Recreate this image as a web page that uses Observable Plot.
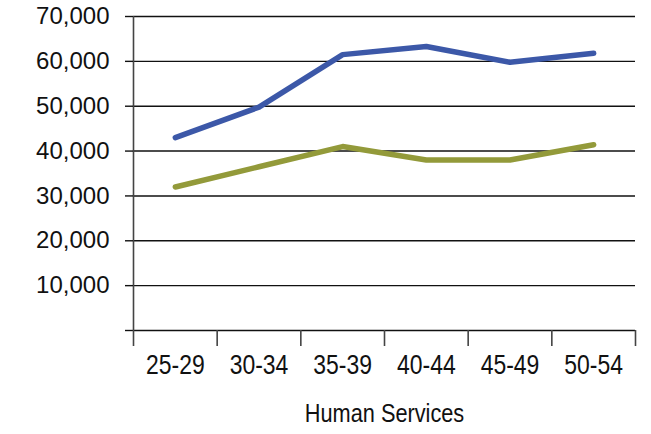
<!DOCTYPE html>
<html>
<head>
<meta charset="utf-8">
<script src="https://cdn.jsdelivr.net/npm/d3@7"></script>
<script src="https://cdn.jsdelivr.net/npm/@observablehq/plot@0.6"></script>
<style>
  html, body { margin: 0; padding: 0; background: #fff; }
</style>
</head>
<body>
<div id="chart"></div>
<script>
const ageGroups = ["25-29", "30-34", "35-39", "40-44", "45-49", "50-54"];
const seriesBlue = [43000, 49800, 61500, 63300, 59800, 61800];
const seriesOlive = [32000, 36500, 41000, 38000, 38000, 41400];
const yTicks = [0, 10000, 20000, 30000, 40000, 50000, 60000, 70000];
const chartTitle = "Human Services";

const rows = [
  ...ageGroups.map((g, i) => ({i, group: g, value: seriesBlue[i], series: "blue"})),
  ...ageGroups.map((g, i) => ({i, group: g, value: seriesOlive[i], series: "olive"}))
];

const xDomain = [-0.5, ageGroups.length - 0.5];
const boundaries = d3.range(xDomain[0], xDomain[1] + 0.01, 1);
const centers = d3.range(ageGroups.length);

const chart = Plot.plot({
  width: 651,
  height: 434,
  marginLeft: 133,
  marginRight: 16,
  marginTop: 16,
  marginBottom: 104,
  style: {fontFamily: "'Liberation Sans', sans-serif", color: "#111", background: "#fff"},
  x: {type: "linear", domain: xDomain},
  y: {domain: [0, 70000]},
  marks: [
    Plot.gridY(yTicks, {stroke: "#111", strokeOpacity: 1, strokeWidth: 1.4}),
    Plot.ruleX([xDomain[0]], {y1: 0, y2: 70000, stroke: "#444", strokeWidth: 1.6}),
    Plot.axisY({
      ticks: yTicks, tickSize: 8, tickPadding: 16, strokeWidth: 1.4,
      tickFormat: d => d === 0 ? "" : d3.format(",")(d),
      fontSize: 24, label: null
    }),
    Plot.axisX({ticks: boundaries, tickSize: 16, strokeWidth: 1.6, stroke: "#444", tickFormat: () => "", label: null}),
    Plot.axisX({
      ticks: centers, tickSize: 0, tickPadding: 24,
      tickFormat: i => ageGroups[i], fontSize: 28, label: null, className: "narrow"
    }),
    Plot.lineY(rows.filter(d => d.series === "blue"), {x: "i", y: "value", stroke: "#3C58A8", strokeWidth: 5.5, strokeLinecap: "round", strokeLinejoin: "round"}),
    Plot.lineY(rows.filter(d => d.series === "olive"), {x: "i", y: "value", stroke: "#939A3A", strokeWidth: 5.5, strokeLinecap: "round", strokeLinejoin: "round"}),
    Plot.text([chartTitle], {frameAnchor: "bottom", dy: 91, text: d => d, fontSize: 26.5, fill: "#111", className: "narrow"})
  ]
});

document.getElementById("chart").appendChild(chart);

// condense the category labels and title (the reference uses a narrow face)
chart.querySelectorAll(".narrow text").forEach(t => {
  const w = t.getComputedTextLength();
  t.setAttribute("textLength", (w * 0.82).toFixed(1));
  t.setAttribute("lengthAdjust", "spacingAndGlyphs");
});
</script>
</body>
</html>
